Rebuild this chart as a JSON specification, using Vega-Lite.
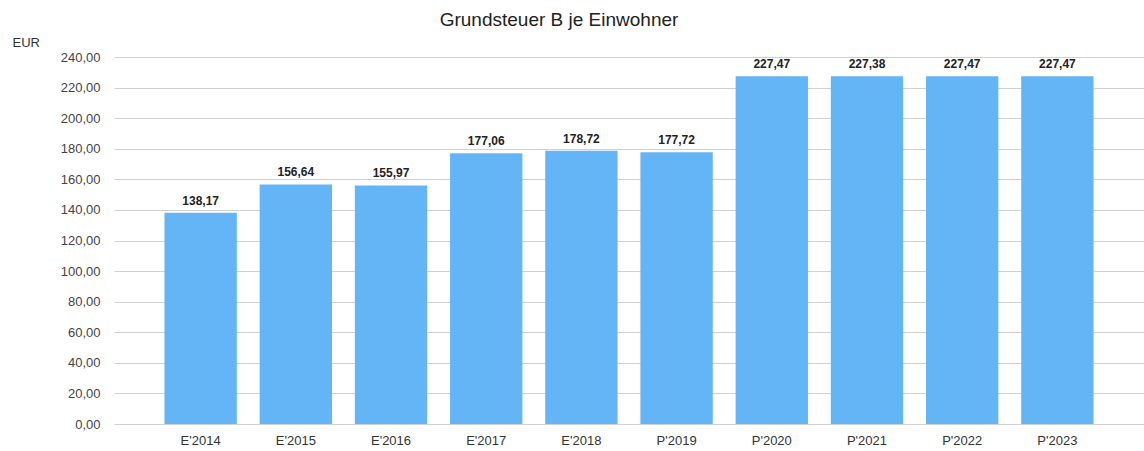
{
  "$schema": "https://vega.github.io/schema/vega-lite/v6.json",
  "width": 1030,
  "height": 367,
  "autosize": {"type": "none"},
  "padding": {"left": 114, "top": 57, "right": 0, "bottom": 27},
  "background": "white",
  "config": {
    "locale": {"number": {"decimal": ",", "thousands": ".", "grouping": [3], "currency": ["", " €"]}},
    "view": {"stroke": null},
    "font": "Liberation Sans"
  },
  "title": {
    "text": "Grundsteuer B je Einwohner",
    "font": "Liberation Sans",
    "fontSize": 19,
    "fontWeight": "normal",
    "color": "#222222",
    "anchor": "middle",
    "dx": -70,
    "offset": 6
  },
  "data": {
    "values": [
      {"jahr": "E'2014", "wert": 138.17},
      {"jahr": "E'2015", "wert": 156.64},
      {"jahr": "E'2016", "wert": 155.97},
      {"jahr": "E'2017", "wert": 177.06},
      {"jahr": "E'2018", "wert": 178.72},
      {"jahr": "P'2019", "wert": 177.72},
      {"jahr": "P'2020", "wert": 227.47},
      {"jahr": "P'2021", "wert": 227.38},
      {"jahr": "P'2022", "wert": 227.47},
      {"jahr": "P'2023", "wert": 227.47}
    ]
  },
  "encoding": {
    "x": {
      "field": "jahr",
      "type": "nominal",
      "sort": null,
      "scale": {"paddingInner": 0.24, "paddingOuter": 0.53},
      "axis": {
        "title": null,
        "labelAngle": 0,
        "labelFont": "Liberation Sans",
        "labelFontSize": 13,
        "labelColor": "#333333",
        "labelPadding": 10,
        "ticks": false,
        "domain": false,
        "grid": false
      }
    },
    "y": {
      "field": "wert",
      "type": "quantitative",
      "scale": {"domain": [0, 240], "nice": false},
      "axis": {
        "title": "EUR",
        "titleAngle": 0,
        "titleX": -102,
        "titleY": -15,
        "titleAlign": "left",
        "titleBaseline": "middle",
        "titleFont": "Liberation Sans",
        "titleFontSize": 13,
        "titleFontWeight": "normal",
        "titleColor": "#333333",
        "values": [0, 20, 40, 60, 80, 100, 120, 140, 160, 180, 200, 220, 240],
        "format": ",.2f",
        "labelFont": "Liberation Sans",
        "labelFontSize": 13,
        "labelColor": "#444444",
        "labelPadding": 14,
        "ticks": false,
        "domain": false,
        "grid": true,
        "gridColor": "#d0d0d0",
        "gridWidth": 1
      }
    }
  },
  "layer": [
    {"mark": {"type": "bar", "color": "#64B5F6"}},
    {
      "mark": {"type": "text", "baseline": "bottom", "dy": -5, "font": "Liberation Sans", "fontSize": 12, "fontWeight": "bold", "color": "#222222"},
      "encoding": {"text": {"field": "wert", "type": "quantitative", "format": ",.2f"}}
    }
  ]
}
